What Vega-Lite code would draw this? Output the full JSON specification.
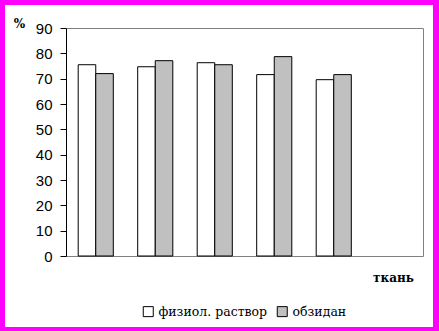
{
  "$schema": "https://vega.github.io/schema/vega-lite/v6.json",
  "width": 428,
  "height": 322,
  "autosize": "none",
  "padding": {"left": 5, "top": 5, "right": 6, "bottom": 4},
  "background": "#FF00FF",
  "config": {
    "view": {"fill": "white", "stroke": null},
    "axis": {"labelFont": "Liberation Sans", "grid": false}
  },
  "data": {
    "values": [
      {"группа": "1", "раствор": "физиол. раствор", "процент": 75.5},
      {"группа": "1", "раствор": "обзидан", "процент": 72.0},
      {"группа": "2", "раствор": "физиол. раствор", "процент": 74.7},
      {"группа": "2", "раствор": "обзидан", "процент": 77.1},
      {"группа": "3", "раствор": "физиол. раствор", "процент": 76.3},
      {"группа": "3", "раствор": "обзидан", "процент": 75.5},
      {"группа": "4", "раствор": "физиол. раствор", "процент": 71.6},
      {"группа": "4", "раствор": "обзидан", "процент": 78.7},
      {"группа": "5", "раствор": "физиол. раствор", "процент": 69.6},
      {"группа": "5", "раствор": "обзидан", "процент": 71.6}
    ]
  },
  "layer": [
    {
      "mark": {"type": "bar", "stroke": "black", "strokeWidth": 1},
      "encoding": {
        "x": {
          "field": "группа", "type": "nominal",
          "scale": {"domain": ["1", "2", "3", "4", "5", "6"], "range": [61, 418], "paddingInner": 0.41, "paddingOuter": 0.205},
          "axis": {
            "orient": "bottom", "offset": -71, "labels": false, "ticks": false,
            "domainColor": "#808080", "domainWidth": 1,
            "title": "ткань", "titleX": 388, "titleY": 25, "titleAlign": "center", "titleBaseline": "alphabetic",
            "titleFont": "DejaVu Serif", "titleFontSize": 12, "titleFontWeight": "bold", "titleColor": "black"
          }
        },
        "xOffset": {"field": "раствор", "type": "nominal", "sort": ["физиол. раствор", "обзидан"]},
        "y": {
          "field": "процент", "type": "quantitative",
          "scale": {"domain": [0, 90], "range": [251, 23], "nice": false, "zero": true},
          "axis": {
            "orient": "left", "offset": -61, "values": [0, 10, 20, 30, 40, 50, 60, 70, 80, 90],
            "domainColor": "black", "tickColor": "black", "tickSize": 6, "labelPadding": 8,
            "labelFont": "Liberation Sans", "labelFontSize": 15, "labelColor": "black",
            "title": "%", "titleAngle": 0, "titleX": -47, "titleY": 22, "titleAlign": "center", "titleBaseline": "alphabetic",
            "titleFont": "DejaVu Serif", "titleFontSize": 12, "titleFontWeight": "bold", "titleColor": "black"
          }
        },
        "fill": {
          "field": "раствор", "type": "nominal",
          "scale": {"domain": ["физиол. раствор", "обзидан"], "range": ["white", "#C0C0C0"]},
          "legend": {
            "orient": "none", "legendX": 137, "legendY": 300, "direction": "horizontal", "title": null,
            "symbolType": "square", "symbolSize": 100, "symbolStrokeColor": "black", "symbolStrokeWidth": 1,
            "labelFont": "DejaVu Serif", "labelFontSize": 12.5, "labelColor": "black",
            "labelOffset": 4, "columnPadding": 7, "padding": 0
          }
        }
      }
    },
    {
      "mark": {"type": "point", "opacity": 0},
      "encoding": {
        "x": {
          "field": "группа", "type": "nominal",
          "axis": {"orient": "top", "offset": -23, "labels": false, "ticks": false, "title": null, "domainColor": "#808080"}
        },
        "y": {
          "field": "процент", "type": "quantitative",
          "axis": {"orient": "right", "offset": -10, "labels": false, "ticks": false, "title": null, "domainColor": "#808080"}
        }
      }
    }
  ],
  "resolve": {"axis": {"x": "independent", "y": "independent"}}
}
